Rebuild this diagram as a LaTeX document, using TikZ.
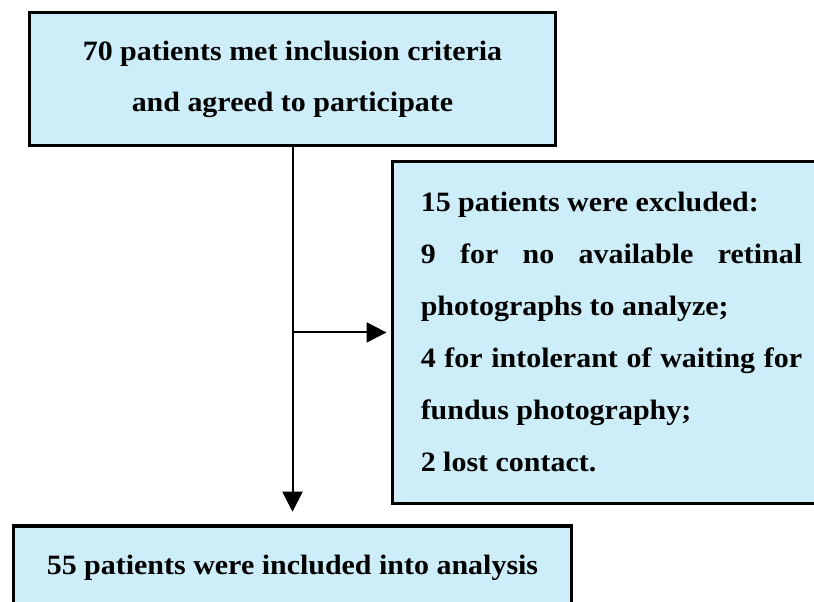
\documentclass[tikz,border=0pt]{standalone}
\usepackage{fontspec}
\setmainfont{Liberation Serif}[FakeStretch=1.07]
\usepackage{tikz}
\usetikzlibrary{arrows.meta,positioning,calc}
\definecolor{boxfill}{RGB}{205,237,248}
\newcommand{\boxfont}{\fontsize{21}{38.3}\selectfont\bfseries}
\newcommand{\listfont}{\fontsize{21}{39}\selectfont\bfseries}

\begin{document}
\begin{tikzpicture}[
    x=0.75pt, y=-0.75pt,
    box/.style={rectangle, draw=black, line width=2.4pt, fill=boxfill, font=\boxfont, align=center},
    flow/.style={-{Triangle[length=15pt,width=15pt]}, line width=1.5pt},
]
\useasboundingbox (0,0) rectangle (814,601);
\clip (0,0) rectangle (814,601);

\node[box, minimum width=394.5pt, minimum height=99.6pt] (met) at (292.5,79)
  {70 patients met inclusion criteria\\and agreed to participate};

% box runs off the right edge of the page
\node[rectangle, fill=boxfill, font=\listfont, anchor=north west, inner xsep=21pt, minimum height=256pt] (excl) at (392.5,161.5)
  {\parbox{286pt}{15 patients were excluded:\\
   9 for no available retinal\linebreak
   photographs to analyze;\\
   4 for intolerant of waiting for\linebreak
   fundus photography;\\
   2 lost contact.}\hspace{60pt}};
\draw[line width=2.4pt] (excl.north east) -- (excl.north west) -- (excl.south west) -- (excl.south east);

\node[box, minimum width=418.5pt, minimum height=63pt] (incl) at (292.5,568)
  {55 patients were included into analysis};

\coordinate (split) at (met.south |- excl.west);

\draw[flow, shorten >=9.5pt] (met.south) -- (incl.north);
\draw[flow, shorten >=4.5pt] (split) -- (excl.west);
\end{tikzpicture}
\end{document}
